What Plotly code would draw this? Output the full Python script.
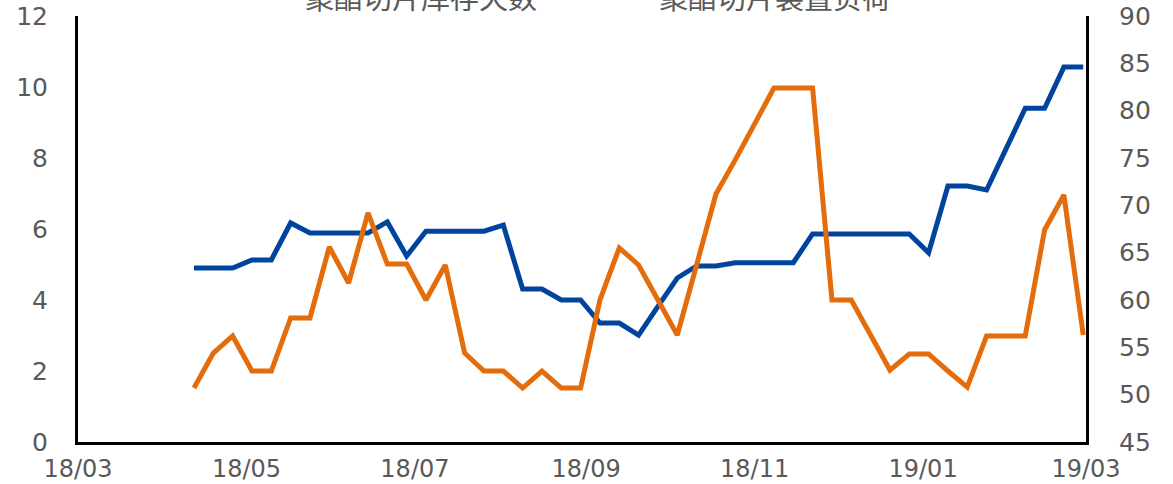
import pandas as pd
import plotly.graph_objects as go

series_names = ["聚酯切片库存天数", "聚酯切片装置负荷"]
dates = pd.date_range("2018-04-12", periods=47, freq="7D")

inventory_days = [4.9, 4.9, 4.9, 5.13, 5.13, 6.17, 5.89, 5.89, 5.89, 5.89,
                  6.2, 5.24, 5.94, 5.94, 5.94, 5.94, 6.11, 4.31, 4.31, 4.0,
                  4.0, 3.35, 3.35, 3.01, 3.82, 4.62, 4.96, 4.96, 5.05, 5.05,
                  5.05, 5.05, 5.86, 5.86, 5.86, 5.86, 5.86, 5.86, 5.33, 7.21,
                  7.21, 7.1, 8.25, 9.4, 9.4, 10.56, 10.56]

plant_load = [50.7, 54.4, 56.2, 52.5, 52.5, 58.1, 58.1, 65.6, 61.8, 69.2,
              63.8, 63.8, 60.0, 63.7, 54.4, 52.5, 52.5, 50.7, 52.5, 50.7,
              50.7, 60.0, 65.5, 63.7, 60.0, 56.3, 63.7, 71.2, 74.8, 78.7,
              82.4, 82.4, 82.4, 60.0, 60.0, 56.3, 52.6, 54.3, 54.3, 52.5,
              50.8, 56.2, 56.2, 56.2, 67.4, 71.1, 56.3]

left_ticks = [0, 2, 4, 6, 8, 10, 12]
right_ticks = [45, 50, 55, 60, 65, 70, 75, 80, 85, 90]

BLUE = "#00449E"
ORANGE = "#E46C0A"
GRAY = "#595959"
TICKFONT = dict(family="DejaVu Sans", size=25, color=GRAY)
XTICKFONT = dict(family="DejaVu Sans", size=24, color=GRAY)

fig = go.Figure()
fig.add_trace(go.Scatter(x=dates, y=inventory_days, mode="lines", name=series_names[0],
                         line=dict(color=BLUE, width=5), yaxis="y"))
fig.add_trace(go.Scatter(x=dates, y=plant_load, mode="lines", name=series_names[1],
                         line=dict(color=ORANGE, width=5), yaxis="y2"))

fig.update_layout(
    width=1173, height=484,
    margin=dict(l=78, r=87, t=16, b=42, autoexpand=False),
    paper_bgcolor="white", plot_bgcolor="white",
    showlegend=False,
    xaxis=dict(type="date", range=["2018-03-01", "2019-03-01"], dtick="M2",
               tick0="2018-03-01", tickformat="%y/%m", showgrid=False, zeroline=False,
               showline=True, linecolor="black", linewidth=3, ticks="",
               tickfont=XTICKFONT, ticklabelstandoff=3, automargin=False),
    yaxis=dict(range=[0, 12], tickvals=left_ticks, showgrid=False, zeroline=False,
               showline=True, linecolor="black", linewidth=3, ticks="",
               tickfont=TICKFONT, ticklabelstandoff=22, automargin=False),
    yaxis2=dict(range=[45, 90], tickvals=right_ticks, overlaying="y", side="right",
                showgrid=False, zeroline=False, showline=True, linecolor="black",
                linewidth=3, ticks="", tickfont=TICKFONT, ticklabelstandoff=25,
                automargin=False),
)

for name, xc in zip(series_names, [0.340, 0.6915]):
    fig.add_annotation(text=name, xref="paper", yref="paper", x=xc, y=1.047,
                       xanchor="center", yanchor="middle", showarrow=False,
                       font=dict(family="Noto Sans CJK SC", size=29, color=GRAY))

fig.write_html("out.html", config={"displayModeBar": False},
               post_script="document.body.style.margin='0';document.body.style.overflow='hidden';")
